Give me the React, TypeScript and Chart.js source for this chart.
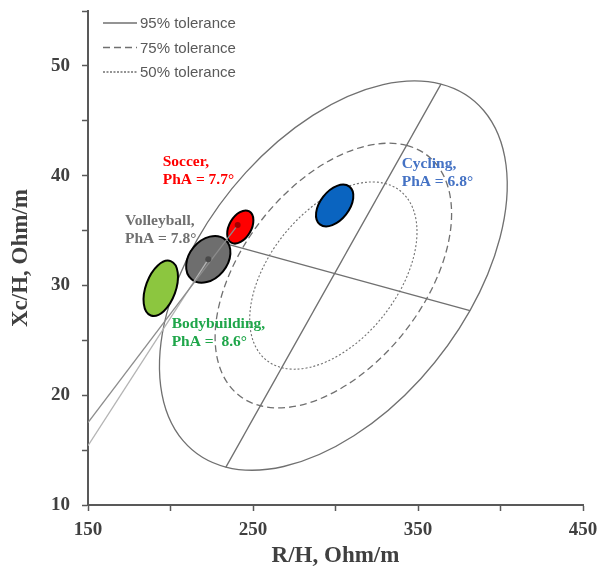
import React, { useEffect, useRef } from 'react';
import { Chart, registerables } from 'chart.js';

Chart.register(...registerables);

// ---------- data ----------
const xTicks = [150, 250, 350, 450];
const yTicks = [10, 20, 30, 40, 50];

// 95% tolerance ellipse: centre and conjugate half-axes (data units)
const tolCenter = [298.7, 30.9];
const tolMajorHalf = [65.2, 17.44];
const tolMinorHalf = [82.8, -3.2];
const tolLabels = ['95% tolerance', '75% tolerance', '50% tolerance'];
const tolScales = [1, 0.68, 0.481];
const tolDashes = [[], [7, 4], [2, 2]];

const majorAxisLine = [{ x: 233.5, y: 13.43 }, { x: 363.9, y: 48.34 }];
const minorAxisLine = [{ x: 236.1, y: 33.7 }, { x: 381.5, y: 27.7 }];

const sports = ['Soccer,', 'Volleyball,', 'Bodybuilding,', 'Cycling,'];
const phaLabels = ['PhA = 7.7°', 'PhA = 7.8°', 'PhA =  8.6°', 'PhA = 6.8°'];
const sportCenterX = [242.3, 222.9, 194.1, 299.5];
const sportCenterY = [35.32, 32.38, 29.74, 37.28];
const sportMajorHalf = [[5.45, 1.42], [10.13, 1.814], [6.01, 2.48], [8.96, 1.72]];
const sportMinorHalf = [[5.77, -0.5], [8.82, -1.112], [8.54, -0.467], [6.92, -0.813]];
const sportFill = ['#ff0000', '#6e6e6e', '#8cc63f', '#0a64c0'];
const labelColor = ['#ff0000', '#707070', '#1fa64a', '#4472c4'];
const labelX = [195.3, 172.4, 200.7, 340.1];
const labelY = [40.87, 35.5, 26.12, 40.69];

const phaLineA = [{ x: 150, y: 17.5 }, { x: 240.7, y: 35.5 }];
const phaLineB = [{ x: 150, y: 15.4 }, { x: 222.9, y: 32.38 }];
const centerDots = [{ x: 222.9, y: 32.38 }, { x: 240.7, y: 35.5 }];
const dotColors = ['#4a4a4a', '#a00000'];

// ---------- helpers ----------
function conjEllipsePath(ctx: CanvasRenderingContext2D, xs: any, ys: any, cx: number, cy: number, a: number[], b: number[], k: number) {
  const px = xs.getPixelForValue(cx);
  const py = ys.getPixelForValue(cy);
  const ax = xs.getPixelForValue(cx + a[0] * k) - px;
  const ay = ys.getPixelForValue(cy + a[1] * k) - py;
  const bx = xs.getPixelForValue(cx + b[0] * k) - px;
  const by = ys.getPixelForValue(cy + b[1] * k) - py;
  ctx.save();
  ctx.transform(ax, ay, bx, by, px, py);
  ctx.beginPath();
  ctx.arc(0, 0, 1, 0, Math.PI * 2);
  ctx.closePath();
  ctx.restore();
}

const serif = "'Liberation Serif', 'Times New Roman', serif";
const sans = "'Liberation Sans', Arial, sans-serif";

const drawPlugin = {
  id: 'customDraw',
  beforeDatasetsDraw(chart: any) {
    const ctx = chart.ctx;
    const xs = chart.scales.x;
    const ys = chart.scales.y;
    ctx.save();
    ctx.strokeStyle = '#707070';
    for (let i = 0; i < tolScales.length; i++) {
      ctx.setLineDash(tolDashes[i]);
      ctx.lineWidth = i === 2 ? 1.1 : 1.3;
      conjEllipsePath(ctx, xs, ys, tolCenter[0], tolCenter[1], tolMajorHalf, tolMinorHalf, tolScales[i]);
      ctx.stroke();
    }
    ctx.restore();
  },
  beforeDatasetDraw(chart: any, args: any) {
    if (args.index !== 2) return;
    const ctx = chart.ctx;
    const xs = chart.scales.x;
    const ys = chart.scales.y;
    ctx.save();
    for (let i = 0; i < sports.length; i++) {
      conjEllipsePath(ctx, xs, ys, sportCenterX[i], sportCenterY[i], sportMajorHalf[i], sportMinorHalf[i], 1);
      ctx.fillStyle = sportFill[i];
      ctx.fill();
      ctx.lineWidth = 2;
      ctx.strokeStyle = '#000000';
      ctx.stroke();
    }
    ctx.restore();
  },
  afterDraw(chart: any) {
    const ctx = chart.ctx;
    const xs = chart.scales.x;
    const ys = chart.scales.y;
    const area = chart.chartArea;
    ctx.save();
    ctx.font = `bold 15.5px ${serif}`;
    ctx.textAlign = 'left';
    ctx.textBaseline = 'alphabetic';
    for (let i = 0; i < sports.length; i++) {
      const x = xs.getPixelForValue(labelX[i]);
      const y = ys.getPixelForValue(labelY[i]);
      ctx.fillStyle = labelColor[i];
      ctx.fillText(sports[i], x, y);
      ctx.fillText(phaLabels[i], x, y + 18);
    }
    ctx.font = `15px ${sans}`;
    ctx.textBaseline = 'middle';
    for (let i = 0; i < tolLabels.length; i++) {
      const y = area.top + 12 + i * 24.5;
      const x0 = area.left + 15;
      ctx.strokeStyle = '#707070';
      ctx.lineWidth = 1.3;
      ctx.setLineDash(i === 0 ? [] : i === 1 ? [7, 4] : [2, 1.5]);
      ctx.beginPath();
      ctx.moveTo(x0, y);
      ctx.lineTo(x0 + 34, y);
      ctx.stroke();
      ctx.setLineDash([]);
      ctx.fillStyle = '#595959';
      ctx.fillText(tolLabels[i], x0 + 37, y + 1);
    }
    ctx.restore();
  },
};

export default function App() {
  const canvasRef = useRef<HTMLCanvasElement | null>(null);

  useEffect(() => {
    const canvas = canvasRef.current;
    if (!canvas) return;
    const tickFont = { family: serif, weight: 'bold' as const, size: 19 };
    const titleFont = { family: serif, weight: 'bold' as const, size: 23 };
    const chart = new Chart(canvas, {
      type: 'scatter',
      data: {
        datasets: [
          { data: majorAxisLine, showLine: true, borderColor: '#707070', borderWidth: 1.3, pointRadius: 0, order: 6 },
          { data: minorAxisLine, showLine: true, borderColor: '#707070', borderWidth: 1.3, pointRadius: 0, order: 5 },
          { data: phaLineB, showLine: true, borderColor: '#b4b4b4', borderWidth: 1.3, pointRadius: 0, order: 4 },
          { data: phaLineA, showLine: true, borderColor: '#8c8c8c', borderWidth: 1.3, pointRadius: 0, order: 3 },
          { data: centerDots, showLine: false, pointRadius: 3, pointBackgroundColor: dotColors, pointBorderWidth: 0, order: 1 },
        ] as any,
      },
      options: {
        responsive: false,
        animation: false,
        devicePixelRatio: 1,
        layout: { padding: { top: 11, right: 15, left: 0, bottom: 0 } },
        plugins: { legend: { display: false }, tooltip: { enabled: false } },
        scales: {
          x: {
            type: 'linear',
            min: 150,
            max: 450,
            ticks: {
              stepSize: 50,
              autoSkip: false,
              maxRotation: 0,
              color: '#404040',
              font: tickFont,
              padding: 8,
              callback: (v: any) => (xTicks.includes(Number(v)) ? String(v) : ''),
            },
            grid: { drawOnChartArea: false, drawTicks: true, tickLength: 6, tickColor: '#595959', tickWidth: 1.5 },
            border: { color: '#595959', width: 2 },
            title: { display: true, text: 'R/H, Ohm/m', color: '#404040', font: titleFont, padding: { top: 0, bottom: 0 } },
            afterFit: (s: any) => { s.height = 65; s.paddingLeft = 0; s.paddingRight = 0; },
          },
          y: {
            type: 'linear',
            min: 10,
            max: 55,
            ticks: {
              stepSize: 5,
              autoSkip: false,
              color: '#404040',
              font: tickFont,
              padding: 12,
              callback: (v: any) => (yTicks.includes(Number(v)) ? String(v) : ''),
            },
            grid: { drawOnChartArea: false, drawTicks: true, tickLength: 6, tickColor: '#595959', tickWidth: 1.5 },
            border: { color: '#595959', width: 2 },
            title: { display: true, text: 'Xc/H, Ohm/m', color: '#404040', font: titleFont, padding: { top: 7, bottom: 0 } },
            afterFit: (s: any) => { s.width = 88; s.paddingTop = 0; s.paddingBottom = 0; },
          },
        },
      } as any,
      plugins: [drawPlugin],
    });
    return () => chart.destroy();
  }, []);

  return (
    <div style={{ position: 'fixed', left: 0, top: 0, width: 598, height: 570, background: '#ffffff' }}>
      <canvas ref={canvasRef} width={598} height={570} style={{ width: 598, height: 570, display: 'block' }} />
    </div>
  );
}
